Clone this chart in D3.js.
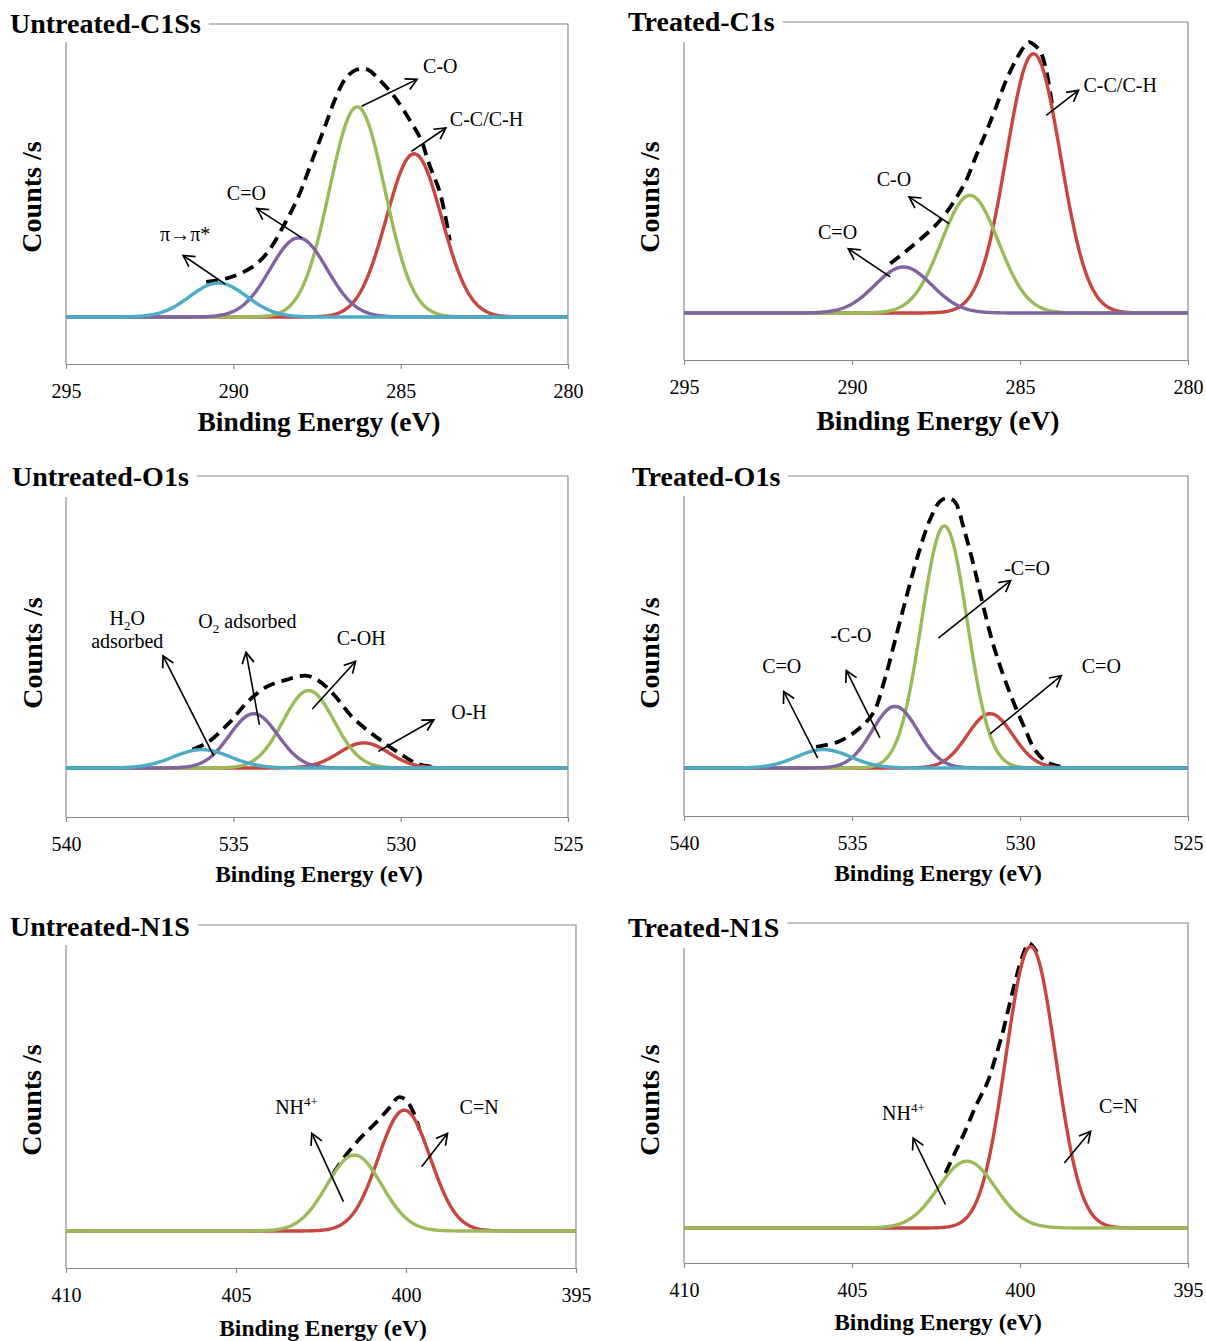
<!DOCTYPE html>
<meta charset="utf-8">
<title>XPS C1s / O1s / N1s</title>
<script src="https://d3js.org/d3.v7.min.js"></script>
<style>
  body { margin: 0; background: #fff; }
  text { font-family: "Liberation Serif", "Times New Roman", serif; fill: #000; }
</style>
<body>
<div id="chart"></div>
<script>
// ---------- data (counts in arbitrary units, baseline = 0) ----------
// fitted components: centre (eV), peak height, FWHM (eV)
var uc1sPeakEV     = [284.6, 286.3, 288.05, 290.45];
var uc1sPeakHeight = [557, 717, 270, 116];
var uc1sPeakFwhm   = [1.95, 1.95, 2.0, 2.0];
var uc1sEnvEV      = [290.81, 290.13, 289.44, 288.98, 288.52, 288.06, 287.6, 287.26, 286.92, 286.63, 286.34, 286.0, 285.65, 285.2, 284.74, 284.39, 284.16, 283.82, 283.53];
var uc1sEnvCounts  = [120, 134, 170, 220, 307, 410, 548, 651, 754, 817, 843, 845, 811, 754, 674, 605, 525, 422, 261];

var tc1sPeakEV     = [284.6, 286.49, 288.47];
var tc1sPeakHeight = [891, 404, 158];
var tc1sPeakFwhm   = [1.9, 2.0, 2.0];
var tc1sEnvEV      = [288.86, 288.24, 287.56, 287.22, 286.88, 286.6, 286.32, 286.03, 285.75, 285.41, 285.07, 284.85, 284.73, 284.56, 284.39, 284.22, 284.05];
var tc1sEnvCounts  = [170, 227, 296, 341, 399, 456, 536, 616, 696, 800, 880, 920, 931, 920, 897, 834, 720];

var uo1sPeakEV     = [531.1, 532.75, 534.39, 535.94];
var uo1sPeakHeight = [86, 265, 186, 63];
var uo1sPeakFwhm   = [1.75, 1.8, 1.7, 2.0];
var uo1sEnvEV      = [536.22, 535.76, 535.13, 534.56, 533.99, 533.42, 532.84, 532.5, 532.04, 531.47, 531.01, 530.55, 529.98, 529.5, 529.0];
var uo1sEnvCounts  = [63, 88, 154, 228, 279, 302, 316, 302, 257, 177, 131, 91, 46, 15, 3];

var to1sPeakEV     = [530.89, 532.25, 533.72, 535.85];
var to1sPeakHeight = [186, 829, 211, 63];
var to1sPeakFwhm   = [1.6, 1.6, 1.6, 1.9];
var to1sEnvEV      = [536.07, 535.39, 534.83, 534.37, 534.03, 533.69, 533.35, 533.02, 532.68, 532.39, 532.17, 531.94, 531.66, 531.37, 531.09, 530.81, 530.52, 530.18, 529.84, 529.56, 529.2, 528.8];
var to1sEnvCounts  = [72, 91, 131, 188, 302, 450, 599, 735, 850, 912, 924, 912, 815, 690, 553, 428, 325, 222, 131, 63, 20, 5];

var un1sPeakEV     = [400.05, 401.52];
var un1sPeakHeight = [395, 248];
var un1sPeakFwhm   = [1.8, 1.9];
var un1sEnvEV      = [402.14, 401.8, 401.35, 400.9, 400.5, 400.22, 400.0, 399.77, 399.6];
var un1sEnvCounts  = [188, 243, 303, 352, 401, 437, 428, 385, 330];

var tn1sPeakEV     = [399.68, 401.58];
var tn1sPeakHeight = [923, 219];
var tn1sPeakFwhm   = [1.75, 2.0];
var tn1sEnvEV      = [402.22, 401.94, 401.66, 401.32, 400.98, 400.75, 400.52, 400.35, 400.18, 400.02, 399.85, 399.73, 399.5];
var tn1sEnvCounts  = [180, 246, 311, 399, 475, 552, 639, 716, 792, 858, 913, 934, 905];

var titles  = ["Untreated-C1Ss", "Treated-C1s", "Untreated-O1s", "Treated-O1s", "Untreated-N1S", "Treated-N1S"];
var c1sTicks = [295, 290, 285, 280];
var o1sTicks = [540, 535, 530, 525];
var n1sTicks = [410, 405, 400, 395];

// peak labels with their arrows (tail -> head), in eV / counts
var uc1sNotes = [
  {parts: [["π→π*"]], at: [291.44, 261], anchor: "middle", tail: [290.24, 112], head: [291.5, 210]},
  {parts: [["C=O"]], at: [289.61, 401], anchor: "middle", tail: [287.95, 270], head: [289.3, 370]},
  {parts: [["C-O"]], at: [284.33, 832], anchor: "start", tail: [286.17, 719], head: [284.51, 811]},
  {parts: [["C-C/C-H"]], at: [283.53, 651], anchor: "start", tail: [284.68, 565], head: [283.65, 645]}
];
var tc1sNotes = [
  {parts: [["C=O"]], at: [290.43, 255], anchor: "middle", tail: [288.86, 124], head: [290.11, 221]},
  {parts: [["C-O"]], at: [288.75, 435], anchor: "middle", tail: [287.11, 307], head: [288.3, 399]},
  {parts: [["C-C/C-H"]], at: [283.11, 761], anchor: "start", tail: [284.22, 679], head: [283.26, 765]}
];
var uo1sNotes = [
  {parts: [["H"], ["2", "sub"], ["O"]], at: [538.17, 490], anchor: "middle"},
  {parts: [["adsorbed"]], at: [538.17, 410], anchor: "middle", tail: [535.59, 42], head: [537.1, 384]},
  {parts: [["O"], ["2", "sub"], [" adsorbed"]], at: [534.58, 479], anchor: "middle", tail: [534.22, 148], head: [534.62, 396]},
  {parts: [["C-OH"]], at: [531.18, 422], anchor: "middle", tail: [532.64, 202], head: [531.35, 365]},
  {parts: [["O-H"]], at: [528.49, 168], anchor: "start", tail: [530.67, 57], head: [529.01, 165]}
];
var to1sNotes = [
  {parts: [["C=O"]], at: [537.09, 327], anchor: "middle", tail: [536.02, 34], head: [537.03, 262]},
  {parts: [["-C-O"]], at: [535.03, 433], anchor: "middle", tail: [534.17, 103], head: [535.17, 334]},
  {parts: [["-C=O"]], at: [529.79, 661], anchor: "middle", tail: [532.43, 445], head: [530.28, 642]},
  {parts: [["C=O"]], at: [527.58, 327], anchor: "middle", tail: [530.89, 117], head: [528.77, 316]}
];
var un1sNotes = [
  {parts: [["NH"], ["4+", "sup"]], at: [403.22, 383], anchor: "middle", tail: [401.84, 96], head: [402.77, 319]},
  {parts: [["C=N"]], at: [397.85, 383], anchor: "middle", tail: [399.54, 210], head: [398.78, 319]}
];
var tn1sNotes = [
  {parts: [["NH"], ["4+", "sup"]], at: [403.47, 355], anchor: "middle", tail: [402.22, 77], head: [403.18, 295]},
  {parts: [["C=N"]], at: [397.07, 377], anchor: "middle", tail: [398.68, 213], head: [397.9, 317]}
];

// ---------- styles & layout ----------
var RED = "#c9463f", GREEN = "#9bbb59", PURPLE = "#8064a2", CYAN = "#4bacc6";
var AXIS = "#8a8a8a";

var panels = [
  {title: titles[0], ticks: c1sTicks, pk: [uc1sPeakEV, uc1sPeakHeight, uc1sPeakFwhm], env: [uc1sEnvEV, uc1sEnvCounts], notes: uc1sNotes,
   colours: [RED, GREEN, PURPLE, CYAN], L: 66, R: 568, top: 24, axisTop: 42, bottom: 364, base: 317, tx: 10, ty: 33, yx: 41, yy: 197, xty: 431, xts: 27.5},
  {title: titles[1], ticks: c1sTicks, pk: [tc1sPeakEV, tc1sPeakHeight, tc1sPeakFwhm], env: [tc1sEnvEV, tc1sEnvCounts], notes: tc1sNotes,
   colours: [RED, GREEN, PURPLE], L: 684, R: 1188, top: 22, axisTop: 42, bottom: 360, base: 313, tx: 628, ty: 31, yx: 659, yy: 197, xty: 430, xts: 27.5},
  {title: titles[2], ticks: o1sTicks, pk: [uo1sPeakEV, uo1sPeakHeight, uo1sPeakFwhm], env: [uo1sEnvEV, uo1sEnvCounts], notes: uo1sNotes,
   colours: [RED, GREEN, PURPLE, CYAN], L: 66, R: 568, top: 476, axisTop: 497, bottom: 817, base: 768, tx: 12, ty: 486, yx: 42, yy: 653, xty: 882, xts: 23.5},
  {title: titles[3], ticks: o1sTicks, pk: [to1sPeakEV, to1sPeakHeight, to1sPeakFwhm], env: [to1sEnvEV, to1sEnvCounts], notes: to1sNotes,
   colours: [RED, GREEN, PURPLE, CYAN], L: 684, R: 1188, top: 476, axisTop: 496, bottom: 816, base: 768, tx: 632, ty: 486, yx: 659, yy: 653, xty: 881, xts: 23.5},
  {title: titles[4], ticks: n1sTicks, pk: [un1sPeakEV, un1sPeakHeight, un1sPeakFwhm], env: [un1sEnvEV, un1sEnvCounts], notes: un1sNotes,
   colours: [RED, GREEN], L: 66, R: 576, top: 925, axisTop: 945, bottom: 1268, base: 1231, tx: 10, ty: 936, yx: 41, yy: 1100, xty: 1336, xts: 23.5},
  {title: titles[5], ticks: n1sTicks, pk: [tn1sPeakEV, tn1sPeakHeight, tn1sPeakFwhm], env: [tn1sEnvEV, tn1sEnvCounts], notes: tn1sNotes,
   colours: [RED, GREEN], L: 684, R: 1188, top: 923, axisTop: 948, bottom: 1263, base: 1228, tx: 628, ty: 937, yx: 659, yy: 1100, xty: 1330, xts: 23.5}
];

var svg = d3.select("#chart").append("svg")
    .attr("width", 1206)
    .attr("height", 1341);

svg.append("defs").append("marker")
    .attr("id", "arrow")
    .attr("markerUnits", "userSpaceOnUse")
    .attr("markerWidth", 16).attr("markerHeight", 16)
    .attr("refX", 12).attr("refY", 7)
    .attr("orient", "auto")
  .append("path")
    .attr("d", "M1,1 L12,7 L1,13")
    .attr("fill", "none")
    .attr("stroke", "#000")
    .attr("stroke-width", 1.7);

panels.forEach(function(p) {
  var g = svg.append("g");
  var x = d3.scaleLinear().domain([p.ticks[0], p.ticks[3]]).range([p.L, p.R]);
  var y = d3.scaleLinear().domain([0, 1000]).range([p.base, p.top]);

  // title and frame
  var title = g.append("text")
      .attr("x", p.tx).attr("y", p.ty)
      .attr("font-size", 28).attr("font-weight", "bold")
      .text(p.title);
  var tEnd = p.tx + title.node().getComputedTextLength() + 8;
  g.append("path")
      .attr("d", "M" + tEnd + "," + p.top + "H" + p.R + "V" + p.bottom)
      .attr("fill", "none").attr("stroke", AXIS).attr("stroke-width", 1.2);
  g.append("line")
      .attr("x1", p.L).attr("x2", p.L).attr("y1", p.axisTop).attr("y2", p.bottom)
      .attr("stroke", AXIS).attr("stroke-width", 1.2);

  var ax = g.append("g")
      .attr("transform", "translate(0," + p.bottom + ")")
      .call(d3.axisBottom(x).tickValues(p.ticks).tickSize(5).tickSizeOuter(0).tickPadding(15).tickFormat(d3.format("d")));
  ax.select(".domain").attr("stroke", AXIS).attr("stroke-width", 1.2);
  ax.selectAll(".tick line").attr("stroke", AXIS).attr("stroke-width", 1.2);
  ax.selectAll(".tick text")
      .attr("font-size", 20)
      .attr("font-family", "Liberation Serif, Times New Roman, serif")
      .attr("fill", "#000");

  g.append("text")
      .attr("x", (p.L + p.R) / 2 + 2).attr("y", p.xty)
      .attr("text-anchor", "middle")
      .attr("font-size", p.xts).attr("font-weight", "bold")
      .text("Binding Energy (eV)");
  g.append("text")
      .attr("transform", "translate(" + p.yx + "," + p.yy + ") rotate(-90)")
      .attr("text-anchor", "middle")
      .attr("font-size", 28).attr("font-weight", "bold")
      .text("Counts /s");

  var line = d3.line()
      .x(function(d) { return x(d[0]); })
      .y(function(d) { return y(d[1]); });

  // measured envelope (dashed), drawn under the fitted components
  g.append("path")
      .datum(d3.zip(p.env[0], p.env[1]))
      .attr("d", line.curve(d3.curveCatmullRom))
      .attr("fill", "none")
      .attr("stroke", "#000")
      .attr("stroke-width", 3.8)
      .attr("stroke-dasharray", "12,7");

  // fitted Gaussian components
  line.curve(d3.curveLinear);
  var lo = Math.min(p.ticks[0], p.ticks[3]), hi = Math.max(p.ticks[0], p.ticks[3]);
  var grid = d3.range(lo, hi + 0.001, 0.04);
  p.pk[0].forEach(function(c, i) {
    var h = p.pk[1][i], s = p.pk[2][i] / 2.3548;
    g.append("path")
        .datum(grid.map(function(e) { return [e, h * Math.exp(-0.5 * Math.pow((e - c) / s, 2))]; }))
        .attr("d", line)
        .attr("fill", "none")
        .attr("stroke", p.colours[i])
        .attr("stroke-width", 3.4)
        .attr("stroke-linejoin", "round");
  });

  // labels and arrows
  p.notes.forEach(function(n) {
    if (n.tail) {
      g.append("line")
          .attr("x1", x(n.tail[0])).attr("y1", y(n.tail[1]))
          .attr("x2", x(n.head[0])).attr("y2", y(n.head[1]))
          .attr("stroke", "#000").attr("stroke-width", 1.6)
          .attr("marker-end", "url(#arrow)");
    }
    var t = g.append("text")
        .attr("x", x(n.at[0])).attr("y", y(n.at[1]))
        .attr("text-anchor", n.anchor)
        .attr("font-size", 20);
    var shift = 0;
    n.parts.forEach(function(part) {
      var target = part[1] === "sub" ? 5 : part[1] === "sup" ? -8 : 0;
      var span = t.append("tspan").attr("dy", target - shift).text(part[0]);
      if (part[1]) span.attr("font-size", 13);
      shift = target;
    });
  });
});
</script>
</body>
